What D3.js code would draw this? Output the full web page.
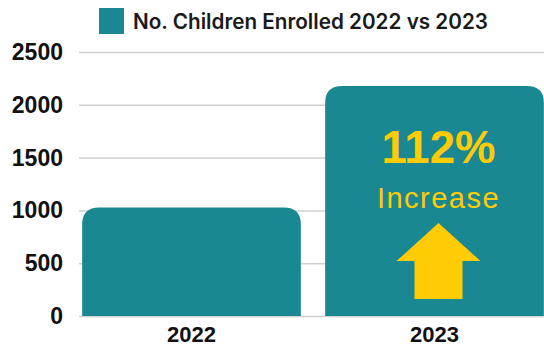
<!DOCTYPE html>
<html>
<head>
<meta charset="utf-8">
<script src="https://cdn.jsdelivr.net/npm/d3@7"></script>
<style>
  body { margin: 0; background: #fff; }
  svg { display: block; }
</style>
</head>
<body>
<div class="container"></div>
<script>
const years = ['2022', '2023'];
const enrolled = [1027, 2177];
const yTicks = [0, 500, 1000, 1500, 2000, 2500];
const legendLabel = 'No. Children Enrolled 2022 vs 2023';
const increaseLabel = '112%';
const increaseWord = 'Increase';

const width = 544;
const height = 347;
const teal = '#1a8893';
const yellow = '#ffcb05';

const svg = d3.select('.container')
    .append('svg')
    .attr('width', width)
    .attr('height', height);

const xScale = d3.scaleBand()
    .domain(years)
    .range([70, 556])
    .paddingInner(0.1)
    .paddingOuter(0.05);

const yScale = d3.scaleLinear()
    .domain([0, 2500])
    .range([316, 52]);

// grid lines
svg.append('g')
    .selectAll('line')
    .data(yTicks)
    .join('line')
    .attr('x1', 79)
    .attr('x2', width)
    .attr('y1', d => yScale(d) + 0.5)
    .attr('y2', d => yScale(d) + 0.5)
    .attr('stroke', '#d0d0d0')
    .attr('stroke-width', 1.5);

// y labels
svg.append('g')
    .selectAll('text')
    .data(yTicks)
    .join('text')
    .attr('x', 63)
    .attr('y', d => yScale(d) + 8)
    .attr('text-anchor', 'end')
    .attr('font-family', 'Liberation Sans, Arial, sans-serif')
    .attr('font-weight', 'bold')
    .attr('font-size', 23)
    .attr('fill', '#111')
    .text(d => d);

// bars with rounded top corners
const r = 17;
const barPath = (x, y, w, h) => {
    return `M${x},${y + h} V${y + r} Q${x},${y} ${x + r},${y} H${x + w - r} Q${x + w},${y} ${x + w},${y + r} V${y + h} Z`;
};

svg.append('g')
    .selectAll('path')
    .data(years)
    .join('path')
    .attr('d', (d, i) => {
        const x = xScale(d);
        const y = yScale(enrolled[i]);
        return barPath(x, y, xScale.bandwidth(), yScale(0) - y);
    })
    .attr('fill', teal);

// x labels
svg.append('g')
    .selectAll('text')
    .data(years)
    .join('text')
    .attr('x', d => xScale(d) + xScale.bandwidth() / 2)
    .attr('y', 342)
    .attr('text-anchor', 'middle')
    .attr('font-family', 'Liberation Sans, Arial, sans-serif')
    .attr('font-weight', 'bold')
    .attr('font-size', 22)
    .attr('fill', '#111')
    .text(d => d);

// legend
svg.append('rect')
    .attr('x', 99)
    .attr('y', 8)
    .attr('width', 25)
    .attr('height', 26)
    .attr('fill', teal);

svg.append('text')
    .attr('x', 133)
    .attr('y', 29)
    .attr('font-family', 'Inter, sans-serif')
    .attr('font-weight', 600)
    .attr('font-size', 21)
    .attr('fill', '#1a1a1a')
    .attr('textLength', 355)
    .attr('lengthAdjust', 'spacingAndGlyphs')
    .text(legendLabel);

// annotation on the 2023 bar
const cx = xScale('2023') + xScale.bandwidth() / 2 + 4;
const top2023 = yScale(enrolled[1]);

svg.append('text')
    .attr('x', cx)
    .attr('y', top2023 + 77)
    .attr('text-anchor', 'middle')
    .attr('font-family', 'Liberation Sans, Arial, sans-serif')
    .attr('font-weight', 'bold')
    .attr('font-size', 47)
    .attr('fill', yellow)
    .attr('textLength', 114)
    .attr('lengthAdjust', 'spacingAndGlyphs')
    .text(increaseLabel);

svg.append('text')
    .attr('x', cx)
    .attr('y', top2023 + 122)
    .attr('text-anchor', 'middle')
    .attr('font-family', 'Liberation Sans, Arial, sans-serif')
    .attr('font-size', 29)
    .attr('letter-spacing', 1.5)
    .attr('fill', yellow)
    .text(increaseWord);

const arrowTop = top2023 + 137;
const arrow = [
    [cx, arrowTop],
    [cx + 42, arrowTop + 38],
    [cx + 24, arrowTop + 38],
    [cx + 24, arrowTop + 76],
    [cx - 24, arrowTop + 76],
    [cx - 24, arrowTop + 38],
    [cx - 42, arrowTop + 38]
];

svg.append('path')
    .attr('d', d3.line()(arrow) + 'Z')
    .attr('fill', yellow);
</script>
</body>
</html>
